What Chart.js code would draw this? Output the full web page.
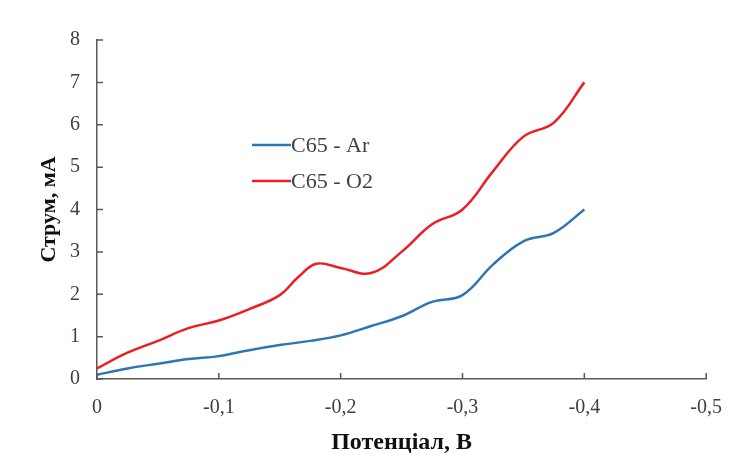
<!DOCTYPE html>
<html>
<head>
<meta charset="utf-8">
<script src="https://cdn.jsdelivr.net/npm/chart.js@4"></script>
<style>
html,body{margin:0;padding:0;background:#fff;}
#wrap{width:739px;height:471px;}
</style>
</head>
<body>
<div id="wrap"><canvas id="c" width="739" height="471"></canvas></div>
<script>
const potentialAr = [0, -0.025, -0.05, -0.075, -0.1, -0.125, -0.15, -0.175, -0.2, -0.225, -0.25, -0.275, -0.3, -0.325, -0.35, -0.375, -0.4];
const currentAr   = [0.1, 0.25, 0.36, 0.47, 0.54, 0.68, 0.8, 0.9, 1.03, 1.25, 1.48, 1.82, 1.98, 2.7, 3.25, 3.45, 4.0];
const potentialO2 = [0, -0.025, -0.05, -0.075, -0.1, -0.125, -0.15, -0.165, -0.18, -0.2, -0.225, -0.25, -0.275, -0.3, -0.325, -0.35, -0.375, -0.4];
const currentO2   = [0.25, 0.62, 0.9, 1.2, 1.38, 1.65, 1.98, 2.4, 2.72, 2.62, 2.5, 3.0, 3.65, 4.0, 4.9, 5.72, 6.05, 7.0];
const labelsSeries = ['C65 - Ar', 'C65 - O2'];
const xTicks = [0, -0.1, -0.2, -0.3, -0.4, -0.5];
const yTicks = [0, 1, 2, 3, 4, 5, 6, 7, 8];

const toPts = (xs, ys) => xs.map((x, i) => ({x: x, y: ys[i]}));
const AXIS = '#595959';
const SERIF = '"Liberation Serif", "Times New Roman", serif';

const innerTicks = {
  id: 'innerTicks',
  afterDraw(chart) {
    const ctx = chart.ctx, xs = chart.scales.x, ys = chart.scales.y;
    const a = chart.chartArea;
    ctx.save();
    ctx.strokeStyle = AXIS; ctx.lineWidth = 1.5;
    ctx.beginPath();
    yTicks.forEach(v => { const p = ys.getPixelForValue(v); ctx.moveTo(a.left, p); ctx.lineTo(a.left + 6, p); });
    xTicks.forEach(v => { const p = xs.getPixelForValue(v); ctx.moveTo(p, a.bottom); ctx.lineTo(p, a.bottom - 6); });
    ctx.stroke();
    ctx.restore();
  }
};

const customLegend = {
  id: 'customLegend',
  afterDraw(chart) {
    const ctx = chart.ctx;
    ctx.save();
    ctx.font = '22px ' + SERIF;
    ctx.textBaseline = 'middle';
    chart.data.datasets.forEach((ds, i) => {
      const y = 145 + i * 36;
      ctx.strokeStyle = ds.borderColor; ctx.lineWidth = 2.5;
      ctx.beginPath(); ctx.moveTo(252, y); ctx.lineTo(291, y); ctx.stroke();
      ctx.fillStyle = '#404040';
      ctx.fillText(ds.label, 291, y + 1);
    });
    ctx.restore();
  }
};

new Chart(document.getElementById('c'), {
  type: 'line',
  data: {
    datasets: [
      {label: labelsSeries[0], data: toPts(potentialAr, currentAr), borderColor: '#2E75B6', borderWidth: 2.5, pointRadius: 0, tension: 0.4, fill: false},
      {label: labelsSeries[1], data: toPts(potentialO2, currentO2), borderColor: '#EE1C25', borderWidth: 2.5, pointRadius: 0, tension: 0.4, fill: false}
    ]
  },
  options: {
    responsive: false,
    animation: false,
    layout: {padding: {left: 32, right: 31, top: 40, bottom: 12}},
    plugins: {legend: {display: false}, tooltip: {enabled: false}},
    scales: {
      x: {
        type: 'linear', reverse: true, min: -0.5, max: 0,
        afterBuildTicks: s => { s.ticks = xTicks.map(v => ({value: v})); },
        afterFit: s => { s.height = 80; },
        grid: {drawOnChartArea: false, drawTicks: false},
        border: {display: true, color: AXIS, width: 1.5},
        ticks: {padding: 17, color: '#404040', font: {family: SERIF, size: 20},
          callback: v => v === 0 ? '0' : v.toFixed(1).replace('.', ',')},
        title: {display: true, text: 'Потенціал, В', color: '#111', font: {family: SERIF, size: 24, weight: 'bold'}, padding: {top: 8, bottom: 2}}
      },
      y: {
        type: 'linear', min: 0, max: 8,
        afterBuildTicks: s => { s.ticks = yTicks.map(v => ({value: v})); },
        afterFit: s => { s.width = 65; },
        grid: {drawOnChartArea: false, drawTicks: false},
        border: {display: true, color: AXIS, width: 1.5},
        ticks: {padding: 17, color: '#404040', font: {family: SERIF, size: 20}},
        title: {display: true, text: 'Струм, мА', color: '#111', font: {family: SERIF, size: 22, weight: 'bold'}, padding: {bottom: 8}}
      }
    }
  },
  plugins: [innerTicks, customLegend]
});
</script>
</body>
</html>
